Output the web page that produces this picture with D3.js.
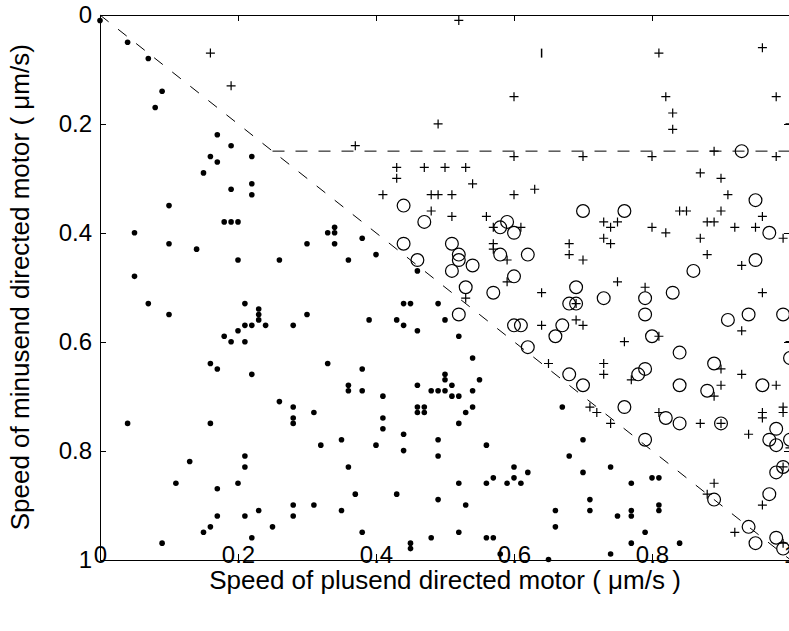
<!DOCTYPE html>
<html>
<head>
<meta charset="utf-8">
<script src="https://cdn.jsdelivr.net/npm/d3@7"></script>
<style>
body { margin: 0; background: #fff; }
text { font-family: "Liberation Sans", Arial, sans-serif; }
</style>
</head>
<body>
<div id="chart"></div>
<script>
// speeds: [plusend, minusend] in um/s
var dots = [
  [0,0.01],[0.04,0.05],[0.07,0.08],[0.09,0.14],[0.08,0.17],[0.17,0.22],[0.19,0.24],[0.16,0.26],[0.22,0.26],
  [0.17,0.27],[0.15,0.29],[0.22,0.31],[0.19,0.32],[0.22,0.33],[0.10,0.35],[0.18,0.38],[0.19,0.38],[0.20,0.38],
  [0.05,0.40],[0.10,0.42],[0.14,0.43],[0.20,0.45],[0.05,0.48],[0.07,0.53],[0.21,0.53],[0.23,0.54],[0.23,0.55],
  [0.23,0.56],[0.10,0.55],[0.21,0.57],[0.22,0.57],[0.24,0.57],[0.20,0.58],[0.18,0.59],[0.19,0.60],[0.21,0.60],
  [0.16,0.64],[0.17,0.65],[0.22,0.66],[0.04,0.75],[0.16,0.75],[0.21,0.81],[0.13,0.82],[0.21,0.83],[0.11,0.86],
  [0.20,0.86],[0.17,0.87],[0.23,0.91],[0.17,0.92],[0.21,0.92],[0.16,0.94],[0.15,0.95],[0.22,0.96],[0.09,0.97],
  [0.34,0.39],[0.33,0.40],[0.34,0.40],[0.30,0.42],[0.34,0.42],[0.38,0.41],[0.40,0.44],[0.26,0.45],[0.36,0.45],
  [0.46,0.47],[0.44,0.53],[0.45,0.53],[0.49,0.53],[0.30,0.55],[0.28,0.57],[0.39,0.56],[0.43,0.56],[0.44,0.57],
  [0.46,0.58],[0.33,0.64],[0.38,0.65],[0.36,0.68],[0.36,0.69],[0.38,0.69],[0.41,0.70],[0.46,0.68],[0.48,0.69],
  [0.49,0.69],[0.26,0.71],[0.28,0.72],[0.28,0.74],[0.28,0.75],[0.31,0.73],[0.46,0.72],[0.47,0.72],[0.46,0.73],
  [0.47,0.73],[0.41,0.74],[0.41,0.76],[0.44,0.77],[0.49,0.78],[0.35,0.78],[0.32,0.79],[0.40,0.79],[0.44,0.80],
  [0.49,0.81],[0.36,0.83],[0.37,0.88],[0.43,0.88],[0.49,0.89],[0.28,0.90],[0.31,0.90],[0.28,0.92],[0.35,0.91],
  [0.25,0.94],[0.38,0.95],[0.48,0.96],[0.45,0.97],[0.45,0.98],[0.50,0.56],[0.52,0.59],[0.54,0.63],[0.50,0.66],
  [0.50,0.67],[0.55,0.67],[0.51,0.68],[0.50,0.69],[0.54,0.69],[0.51,0.70],[0.52,0.70],[0.54,0.72],[0.53,0.73],
  [0.52,0.75],[0.67,0.72],[0.70,0.78],[0.56,0.79],[0.68,0.81],[0.60,0.83],[0.62,0.84],[0.57,0.85],[0.60,0.85],
  [0.52,0.86],[0.56,0.86],[0.59,0.86],[0.61,0.86],[0.70,0.84],[0.53,0.90],[0.71,0.89],[0.71,0.91],[0.66,0.91],
  [0.66,0.94],[0.52,0.95],[0.56,0.96],[0.57,0.96],[0.58,0.99],[0.65,1.0],[0.74,0.83],[0.77,0.86],[0.80,0.85],
  [0.81,0.85],[0.81,0.90],[0.81,0.91],[0.75,0.92],[0.77,0.91],[0.77,0.92],[0.79,0.95],[0.77,0.97],[0.84,0.97],
  [0.74,0.99]
];

var rings = [
  [0.93,0.25],[0.44,0.35],[0.47,0.38],[0.44,0.42],[0.46,0.45],[0.70,0.36],[0.58,0.39],[0.59,0.38],[0.60,0.40],
  [0.51,0.42],[0.58,0.44],[0.52,0.44],[0.52,0.45],[0.62,0.44],[0.54,0.46],[0.51,0.47],[0.60,0.48],[0.53,0.50],
  [0.57,0.51],[0.69,0.50],[0.68,0.53],[0.69,0.53],[0.73,0.52],[0.52,0.55],[0.60,0.57],[0.61,0.57],[0.67,0.57],
  [0.66,0.59],[0.62,0.61],[0.95,0.34],[0.76,0.36],[0.97,0.40],[0.95,0.45],[0.86,0.47],[0.79,0.52],[0.83,0.51],
  [0.79,0.55],[0.91,0.56],[0.94,0.55],[0.99,0.55],[0.80,0.59],[0.84,0.62],[0.89,0.64],[1.0,0.63],[0.78,0.66],
  [0.79,0.65],[0.84,0.68],[0.88,0.69],[0.96,0.68],[0.76,0.72],[0.82,0.74],[0.84,0.75],[0.90,0.75],[0.98,0.76],
  [0.97,0.78],[0.98,0.79],[1.0,0.78],[0.79,0.78],[0.98,0.84],[0.99,0.83],[0.89,0.89],[0.97,0.88],[0.94,0.94],
  [0.95,0.97],[0.98,0.96],[0.99,0.98],[0.68,0.66],[0.70,0.68]
];

var pluses = [
  [0.16,0.07],[0.19,0.13],[0.49,0.20],[0.37,0.24],[0.43,0.28],[0.47,0.28],[0.43,0.30],[0.52,0.01],[0.60,0.15],
  [0.60,0.26],[0.70,0.26],[0.50,0.28],[0.53,0.28],[0.54,0.31],[0.81,0.07],[0.96,0.06],[0.82,0.15],[0.98,0.15],
  [0.83,0.18],[0.83,0.21],[1.0,0.20],[0.80,0.26],[0.89,0.25],[0.98,0.26],[0.87,0.29],[0.90,0.30],[0.41,0.33],
  [0.48,0.33],[0.49,0.33],[0.48,0.36],[0.51,0.33],[0.60,0.33],[0.63,0.32],[0.51,0.37],[0.56,0.37],[0.57,0.39],
  [0.61,0.39],[0.73,0.38],[0.74,0.39],[0.73,0.41],[0.74,0.42],[0.57,0.42],[0.57,0.43],[0.59,0.45],[0.68,0.42],
  [0.68,0.44],[0.70,0.45],[0.59,0.49],[0.53,0.52],[0.64,0.51],[0.69,0.53],[0.64,0.57],[0.69,0.56],[0.70,0.57],
  [0.65,0.64],[0.73,0.64],[0.91,0.33],[0.84,0.36],[0.85,0.36],[0.90,0.36],[0.96,0.37],[0.88,0.38],[0.89,0.38],
  [0.75,0.38],[0.80,0.39],[0.82,0.40],[0.92,0.39],[0.95,0.39],[0.99,0.41],[0.87,0.41],[0.88,0.44],[0.93,0.46],
  [0.75,0.49],[0.79,0.50],[0.96,0.51],[0.93,0.58],[0.81,0.59],[0.76,0.60],[1.0,0.60],[0.90,0.65],[0.77,0.67],
  [0.93,0.66],[0.90,0.68],[0.89,0.70],[0.98,0.68],[0.81,0.73],[0.87,0.75],[0.90,0.75],[0.74,0.75],[0.96,0.73],
  [0.96,0.74],[0.99,0.72],[0.99,0.73],[0.94,0.77],[1.0,0.795],[0.99,0.83],[0.89,0.86],[0.88,0.88],[0.96,0.90],
  [0.92,0.95],[0.99,0.97],[0.73,0.66],[0.71,0.72],[0.72,0.73]
];

var bars = [[0.64,0.07]];

var diagLine = [[0,0],[1,1]];
var capLine = [[0.25,0.25],[1,0.25]];

var tickVals = [0, 0.2, 0.4, 0.6, 0.8, 1];
var xTitle = "Speed of plusend directed motor (  \u03bcm/s )";
var yTitle = "Speed of minusend directed motor (  \u03bcm/s)";

var W = 789, H = 631;
var x = d3.scaleLinear().domain([0, 1]).range([100, 790]);
var y = d3.scaleLinear().domain([0, 1]).range([15, 559.5]);
var fmt = d3.format("");
var tickFs = 24, titleFs = 26;

var svg = d3.select("#chart").append("svg")
  .attr("width", W)
  .attr("height", H);

function styleAxis(sel) {
  sel.selectAll("path, line").attr("stroke", "#000").attr("shape-rendering", "crispEdges");
  sel.selectAll("text").attr("fill", "#000").attr("font-size", tickFs)
    .style("font-family", "'Liberation Sans', Arial, sans-serif");
}

// inward ticks all round the box
svg.append("g")
  .attr("transform", "translate(0," + y(1) + ")")
  .call(d3.axisBottom(x).tickValues(tickVals).tickFormat(fmt).tickSizeInner(-6).tickSizeOuter(0).tickPadding(-14))
  .call(styleAxis);

svg.append("g")
  .attr("transform", "translate(0," + y(0) + ")")
  .call(d3.axisTop(x).tickValues(tickVals).tickFormat("").tickSizeInner(-6).tickSizeOuter(0))
  .call(styleAxis);

svg.append("g")
  .attr("transform", "translate(" + x(0) + ",0)")
  .call(d3.axisLeft(y).tickValues(tickVals).tickFormat(fmt).tickSizeInner(-6).tickSizeOuter(0).tickPadding(8))
  .call(styleAxis);

svg.append("g")
  .attr("transform", "translate(" + x(1) + ",0)")
  .call(d3.axisRight(y).tickValues(tickVals).tickFormat("").tickSizeInner(-6).tickSizeOuter(0))
  .call(styleAxis);

var line = d3.line().x(function(d){ return x(d[0]); }).y(function(d){ return y(d[1]); });

svg.append("path").datum(diagLine)
  .attr("d", line)
  .attr("fill", "none").attr("stroke", "#000").attr("stroke-width", 1)
  .attr("stroke-dasharray", "11,12");

svg.append("path").datum(capLine)
  .attr("d", line)
  .attr("fill", "none").attr("stroke", "#000").attr("stroke-width", 1)
  .attr("stroke-dasharray", "12,11");

svg.append("g").selectAll("circle.dot").data(dots).enter()
  .append("circle").attr("class", "dot")
  .attr("cx", function(d){ return x(d[0]); })
  .attr("cy", function(d){ return y(d[1]); })
  .attr("r", 2.8)
  .attr("fill", "#000");

svg.append("g").selectAll("circle.ring").data(rings).enter()
  .append("circle").attr("class", "ring")
  .attr("cx", function(d){ return x(d[0]); })
  .attr("cy", function(d){ return y(d[1]); })
  .attr("r", 6.4)
  .attr("fill", "none")
  .attr("stroke", "#000")
  .attr("stroke-width", 1.2);

svg.append("g").selectAll("path.plus").data(pluses).enter()
  .append("path").attr("class", "plus")
  .attr("transform", function(d){ return "translate(" + x(d[0]) + "," + y(d[1]) + ")"; })
  .attr("d", "M-4.5,0H4.5M0,-4.5V4.5")
  .attr("stroke", "#000")
  .attr("stroke-width", 1.2);

svg.append("g").selectAll("path.bar").data(bars).enter()
  .append("path").attr("class", "bar")
  .attr("transform", function(d){ return "translate(" + x(d[0]) + "," + y(d[1]) + ")"; })
  .attr("d", "M0,-4.5V4.5")
  .attr("stroke", "#000")
  .attr("stroke-width", 1.5);

// axis titles centred on the box
svg.append("text")
  .attr("x", (x(0) + x(1)) / 2).attr("y", 589)
  .attr("text-anchor", "middle")
  .attr("font-size", titleFs)
  .text(xTitle);

svg.append("text")
  .attr("transform", "translate(29," + (y(0) + y(1)) / 2 + ") rotate(-90)")
  .attr("text-anchor", "middle")
  .attr("font-size", titleFs)
  .text(yTitle);
</script>
</body>
</html>
